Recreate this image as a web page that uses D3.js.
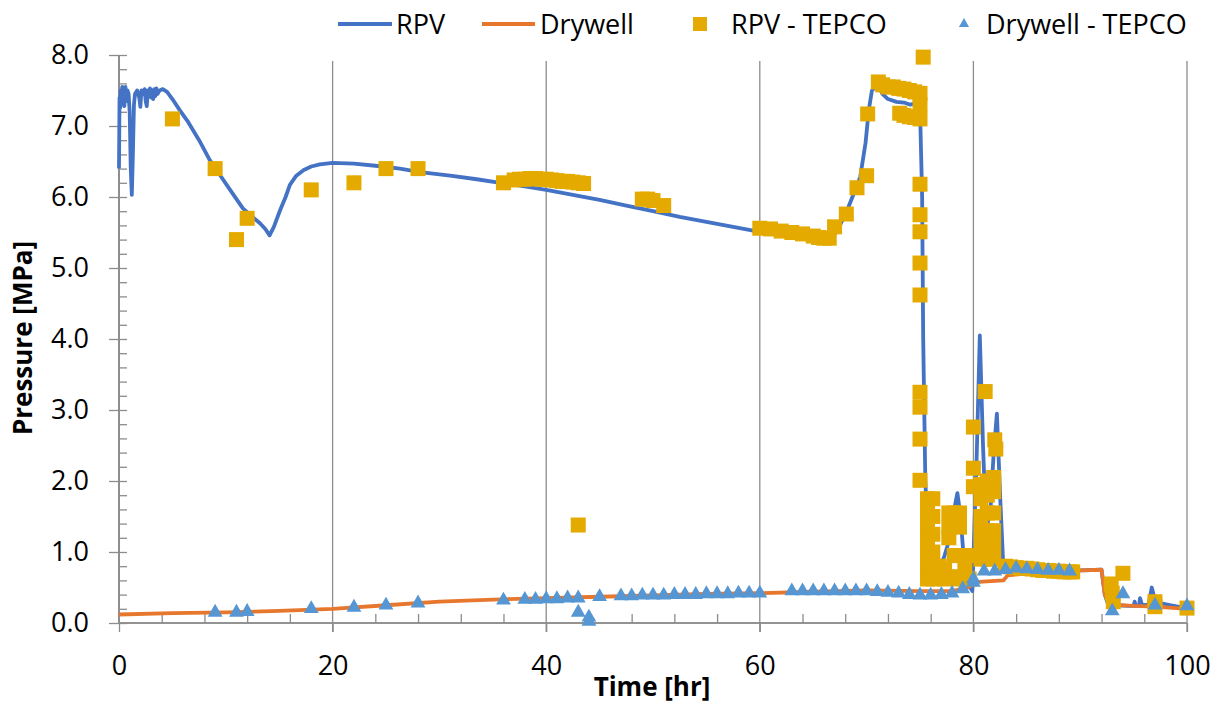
<!DOCTYPE html>
<html><head><meta charset="utf-8">
<script src="https://cdn.jsdelivr.net/npm/d3@7"></script>
<style>
html,body{margin:0;padding:0;background:#fff;}
svg{display:block;}
text{font-family:"Open Sans",sans-serif;fill:#000;}
</style></head>
<body><svg id="chart" width="1218" height="705"></svg>
<script>
// ---------- DATA ----------
const seriesNames = ["RPV", "Drywell", "RPV - TEPCO", "Drywell - TEPCO"];
const xTicks = [0, 20, 40, 60, 80, 100];
const yTicks = [0, 1, 2, 3, 4, 5, 6, 7, 8];

// RPV (simulation) [time hr, pressure MPa]
const rpvTime = [0,0.05,0.1,0.15,0.2,0.3,0.35,0.45,0.5,0.6,0.7,0.8,0.9,1.0,1.1,1.2,1.3,1.4,1.5,1.7,1.9,2.0,2.1,2.3,2.4,2.5,2.6,2.7,2.8,2.9,3.0,3.1,3.2,3.3,3.4,3.5,3.6,3.8,4.1,4.5,5,5.7,6.5,7.5,8.5,9.5,10.5,11.6,12.5,13.2,13.7,14.1,14.5,15.1,15.6,16.0,16.6,17.3,18.0,18.8,20,22,24,26.3,28.2,31,33.5,35.7,38,40,42.5,45,47.5,50,52.5,55,57.5,60,62,64,66,66.8,67.5,68.2,68.8,69.4,69.9,70.2,70.5,71,71.5,72,72.8,73.5,74.1,74.6,75.0,75.2,75.3,75.5,75.8,76.2,76.8,77.3,77.8,78.2,78.5,78.8,79.1,79.5,79.9,80.3,80.6,80.9,81.2,81.6,81.9,82.2,82.5,82.8,83.5,85,88,90,92,92.3,92.6,93.5,94.5,95.0,95.1,95.2,95.5,95.6,95.8,96.4,96.7,97.0,97.5,98.5,99.5,100];
const rpvValue = [6.4,7.4,7.25,7.5,7.3,7.55,7.3,7.5,7.28,7.55,7.35,7.5,7.45,7.2,6.4,6.03,6.6,7.3,7.45,7.5,7.4,7.27,7.5,7.45,7.52,7.35,7.28,7.5,7.42,7.53,7.4,7.5,7.38,7.52,7.42,7.53,7.45,7.5,7.52,7.48,7.38,7.22,7.05,6.8,6.52,6.3,6.08,5.84,5.72,5.63,5.55,5.46,5.58,5.82,6.0,6.17,6.3,6.38,6.43,6.46,6.48,6.47,6.44,6.4,6.35,6.3,6.25,6.2,6.15,6.1,6.03,5.96,5.88,5.8,5.72,5.65,5.58,5.51,5.48,5.45,5.42,5.42,5.6,5.82,6.05,6.28,6.76,7.22,7.5,7.58,7.45,7.38,7.34,7.33,7.3,7.32,7.25,6.0,4.0,2.0,1.0,0.65,0.75,0.95,1.2,1.6,1.83,1.5,0.9,0.55,0.45,2.3,4.05,2.5,1.3,1.6,2.4,2.95,1.8,0.8,0.76,0.74,0.73,0.74,0.75,0.4,0.27,0.25,0.24,0.24,0.3,0.24,0.24,0.35,0.25,0.26,0.5,0.32,0.28,0.25,0.22,0.22];

// Drywell (simulation)
const dwTime = [0,5,10,15,20,25,30,35,40,45,50,55,60,65,70,75,78,79.5,80,80.5,82.8,83.2,85,90,92,92.3,92.8,95,97,100];
const dwValue = [0.12,0.14,0.15,0.17,0.2,0.25,0.3,0.33,0.35,0.37,0.39,0.41,0.42,0.44,0.46,0.45,0.45,0.5,0.55,0.58,0.6,0.67,0.7,0.74,0.75,0.4,0.26,0.24,0.23,0.2];

// RPV - TEPCO measurements
const rpvTepcoTime = [5,9,11,12,18,22,25,28,36,37,37.5,38,38.5,39,39.5,40,40.5,41,41.5,42,42.5,43,43.5,43,49,49.5,50,51,
 60,61,62,63,64,65,65.5,66,66.5,67,68.1,69.1,70,70.1,71.1,71.5,72,72.5,73,73.5,74,74.5,75,73.1,73.5,74,74.5,75,75.3,
 75,75,75,75,75,75,75,75,75,75,
 75.7,75.7,75.7,75.7,75.7,75.7,75.7,76.2,76.2,76.2,76.2,76.2,76.2,76.8,76.8,77.3,77.3,77.7,77.7,77.7,77.7,78.2,78.2,78.2,78.7,78.7,78.7,78.7,79.2,79.2,79.2,79.6,79.6,
 80,80,80,81.1,82,82.1,80.7,80.7,80.7,80.7,80.7,80.7,81.3,81.3,81.3,81.3,81.3,81.3,81.9,81.9,81.9,81.9,81.9,81.9,
 83,83.5,84,84.5,85,85.5,86,86.5,87,87.5,88,88.5,89,89.3,92.9,93,93.1,94,97,97,100];
const rpvTepcoValue = [7.1,6.4,5.4,5.7,6.1,6.2,6.4,6.4,6.2,6.24,6.25,6.25,6.26,6.26,6.25,6.25,6.24,6.23,6.22,6.22,6.21,6.2,6.19,1.38,5.97,5.97,5.95,5.88,
 5.56,5.55,5.52,5.5,5.48,5.45,5.43,5.42,5.42,5.58,5.76,6.13,6.3,7.17,7.62,7.58,7.55,7.55,7.53,7.52,7.5,7.48,7.46,7.18,7.15,7.13,7.12,7.1,7.97,
 7.3,6.18,5.75,5.51,5.07,4.62,3.25,3.04,2.59,2.01,
 1.75,1.55,1.35,1.15,0.95,0.75,0.62,1.75,1.5,1.25,1.0,0.8,0.62,0.65,0.8,0.62,0.75,1.55,1.35,1.2,0.65,1.55,0.95,0.65,1.55,1.35,0.95,0.62,0.95,0.8,0.62,0.95,0.62,
 2.76,2.18,1.92,3.26,2.58,2.45,1.95,1.75,1.5,1.3,1.1,0.9,2.0,1.8,1.55,1.3,1.1,0.9,2.05,1.85,1.55,1.3,1.1,0.9,
 0.8,0.79,0.78,0.77,0.77,0.76,0.75,0.74,0.74,0.73,0.73,0.72,0.72,0.72,0.55,0.42,0.3,0.7,0.23,0.3,0.21];

// Drywell - TEPCO measurements
const dwTepcoTime = [9,11,12,18,22,25,28,36,38,39,40,41,42,43,43,44,44,45,47,48,49,50,51,52,53,54,55,56,57,58,59,60,
 63,64,65,66,67,68,69,70,71,72,73,74,75,76,77,78,79,80,80,81,82,83,84,85,86,87,88,89,93,94,97,100];
const dwTepcoValue = [0.15,0.15,0.16,0.2,0.22,0.25,0.28,0.32,0.33,0.33,0.34,0.34,0.35,0.35,0.15,0.08,0.02,0.37,0.38,0.38,0.39,0.39,0.39,0.4,0.4,0.4,0.41,0.41,0.41,0.42,0.42,0.42,
 0.45,0.45,0.45,0.45,0.45,0.45,0.45,0.45,0.44,0.43,0.42,0.4,0.39,0.39,0.4,0.42,0.48,0.57,0.62,0.73,0.73,0.75,0.77,0.76,0.75,0.74,0.74,0.73,0.17,0.41,0.25,0.24];

// ---------- CHART ----------
const svg = d3.select("#chart");
const x = d3.scaleLinear().domain([0, 100]).range([119, 1187]);
const y = d3.scaleLinear().domain([0, 8]).range([623, 55]);
const axisColor = "#8c8c8c";
const cBlue = "#4472C4", cOrange = "#E8772E", cGold = "#E4AA00", cTri = "#5596D3";

// vertical gridlines
svg.append("g").selectAll("line").data(xTicks.filter(d => d > 0)).join("line")
  .attr("x1", d => x(d)).attr("x2", d => x(d)).attr("y1", 61).attr("y2", 632)
  .attr("stroke", axisColor).attr("stroke-width", 1.3);

// y axis: major (outer+inner) and minor inner ticks
const yMinor = d3.range(0, 8.001, 0.2).map(v => +v.toFixed(1)).filter(v => Math.abs(v - Math.round(v)) > 1e-6);
const gyMinor = svg.append("g").attr("transform", "translate(119,0)")
  .call(d3.axisRight(y).tickValues(yMinor).tickSize(8).tickFormat(""));
const gy = svg.append("g").attr("transform", "translate(119,0)")
  .call(d3.axisLeft(y).tickValues(yTicks).tickSize(10).tickPadding(20).tickFormat(d3.format(".1f")));
const gyIn = svg.append("g").attr("transform", "translate(119,0)")
  .call(d3.axisRight(y).tickValues(yTicks).tickSize(8).tickFormat(""));
[gyMinor, gy, gyIn].forEach(g => {
  g.select(".domain").attr("stroke", axisColor).attr("stroke-width", 1.5).attr("d", `M0,${y(8)}V${y(0)}`);
  g.selectAll(".tick line").attr("stroke", axisColor).attr("stroke-width", 1.3);
});
gy.selectAll(".tick text").attr("font-size", 27).attr("font-family", "Open Sans").attr("fill", "#000");

// x axis
const xMinor = d3.range(0, 100.001, 4).filter(v => v % 20 !== 0);
const gxMinor = svg.append("g").attr("transform", "translate(0,623)")
  .call(d3.axisTop(x).tickValues(xMinor).tickSize(9).tickFormat(""));
const gx = svg.append("g").attr("transform", "translate(0,623)")
  .call(d3.axisBottom(x).tickValues(xTicks).tickSize(9).tickPadding(24).tickFormat(d3.format("d")));
[gxMinor, gx].forEach(g => {
  g.select(".domain").attr("stroke", axisColor).attr("stroke-width", 1.5).attr("d", `M${x(0)},0H${x(100)}`);
  g.selectAll(".tick line").attr("stroke", axisColor).attr("stroke-width", 1.3);
});
gx.selectAll(".tick text").attr("font-size", 27).attr("font-family", "Open Sans").attr("fill", "#000");

// lines
const line = d3.line().x(d => x(d[0])).y(d => y(d[1]));
const rpvData = rpvTime.map((t, i) => [t, rpvValue[i]]);
const dwData = dwTime.map((t, i) => [t, dwValue[i]]);
svg.append("path").datum(rpvData).attr("d", line).attr("fill", "none")
  .attr("stroke", cBlue).attr("stroke-width", 3.8).attr("stroke-linejoin", "round");
svg.append("path").datum(dwData).attr("d", line).attr("fill", "none")
  .attr("stroke", cOrange).attr("stroke-width", 3.8).attr("stroke-linejoin", "round");

// squares
const sq = 15;
svg.append("g").selectAll("rect").data(rpvTepcoTime.map((t, i) => [t, rpvTepcoValue[i]])).join("rect")
  .attr("x", d => x(d[0]) - sq / 2).attr("y", d => y(d[1]) - sq / 2)
  .attr("width", sq).attr("height", sq).attr("fill", cGold);

// triangles
const tri = d3.symbol().type(d3.symbolTriangle).size(95);
svg.append("g").selectAll("path").data(dwTepcoTime.map((t, i) => [t, dwTepcoValue[i]])).join("path")
  .attr("d", tri).attr("transform", d => `translate(${x(d[0])},${y(d[1])})`).attr("fill", cTri);

// axis titles
svg.append("text").attr("x", 652).attr("y", 696).attr("text-anchor", "middle")
  .attr("font-size", 26).attr("font-weight", "bold").text("Time [hr]");
svg.append("text").attr("transform", "translate(32,338) rotate(-90)").attr("text-anchor", "middle")
  .attr("font-size", 26).attr("font-weight", "bold").text("Pressure [MPa]");

// legend
const lg = svg.append("g").attr("font-size", 27);
const ly = 24;
lg.append("line").attr("x1", 338).attr("x2", 392).attr("y1", ly).attr("y2", ly).attr("stroke", cBlue).attr("stroke-width", 3.8);
lg.append("text").attr("x", 396).attr("y", ly).attr("dy", "0.36em").text(seriesNames[0]);
lg.append("line").attr("x1", 482).attr("x2", 535).attr("y1", ly).attr("y2", ly).attr("stroke", cOrange).attr("stroke-width", 3.8);
lg.append("text").attr("x", 540).attr("y", ly).attr("dy", "0.36em").text(seriesNames[1]);
lg.append("rect").attr("x", 700 - 7).attr("y", ly - 7).attr("width", 14).attr("height", 14).attr("fill", cGold);
lg.append("text").attr("x", 731).attr("y", ly).attr("dy", "0.36em").text(seriesNames[2]);
lg.append("path").attr("d", d3.symbol().type(d3.symbolTriangle).size(45)).attr("transform", `translate(964,${ly})`).attr("fill", cTri);
lg.append("text").attr("x", 986).attr("y", ly).attr("dy", "0.36em").text(seriesNames[3]);
</script>
</body></html>
